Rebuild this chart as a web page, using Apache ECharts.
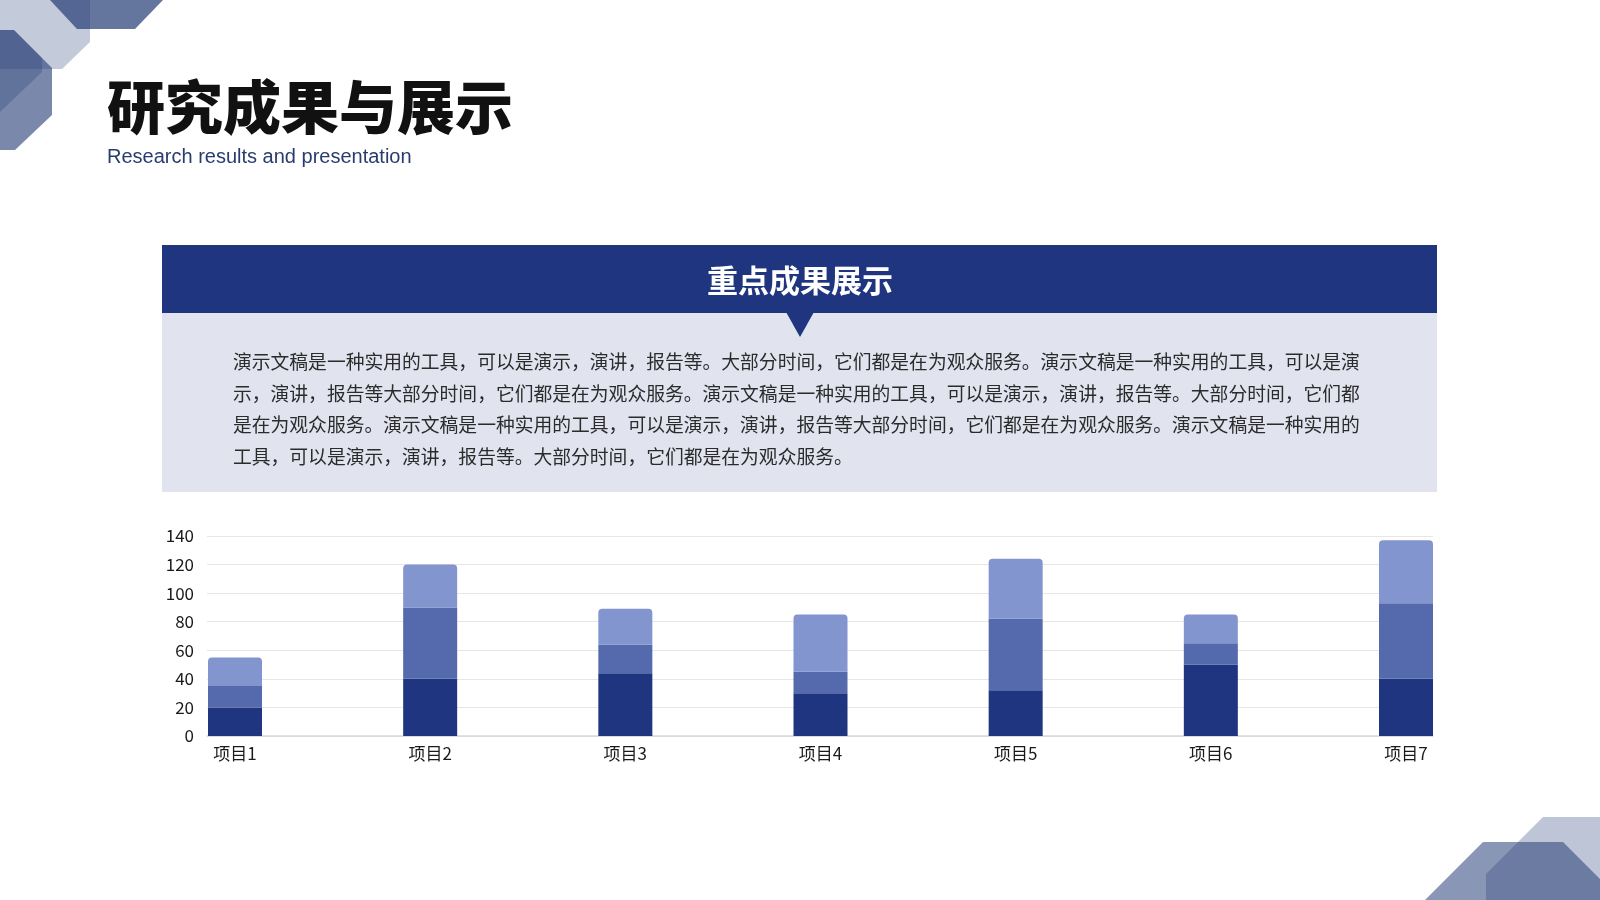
<!DOCTYPE html>
<html>
<head>
<meta charset="utf-8">
<script src="https://cdn.jsdelivr.net/npm/echarts@6/dist/echarts.min.js"></script>
<style>
html,body{margin:0;padding:0;background:#fff;}
#main{width:1600px;height:900px;}
</style>
</head>
<body>
<div id="main"></div>
<script>
// ---- data ----
const categories = ['项目1', '项目2', '项目3', '项目4', '项目5', '项目6', '项目7'];
const seriesNames = ['系列1', '系列2', '系列3'];
const series1 = [20, 40, 44, 30, 32, 50, 40];
const series2 = [15, 50, 20, 15, 50, 15, 53];
const series3 = [20, 30, 25, 40, 42, 20, 44];
const yMin = 0, yMax = 140, yInterval = 20;

const titleText = '研究成果与展示';
const subtitleText = 'Research results and presentation';
const bannerText = '重点成果展示';
const paragraphLines = [
  '演示文稿是一种实用的工具，可以是演示，演讲，报告等。大部分时间，它们都是在为观众服务。演示文稿是一种实用的工具，可以是演',
  '示，演讲，报告等大部分时间，它们都是在为观众服务。演示文稿是一种实用的工具，可以是演示，演讲，报告等。大部分时间，它们都',
  '是在为观众服务。演示文稿是一种实用的工具，可以是演示，演讲，报告等大部分时间，它们都是在为观众服务。演示文稿是一种实用的',
  '工具，可以是演示，演讲，报告等。大部分时间，它们都是在为观众服务。'
];

const CJK = '"Noto Sans CJK SC", "Noto Sans", sans-serif';
const navy = '#1f3580';
const colors = ['#1f3580', '#546aad', '#8295cf'];

const chart = echarts.init(document.getElementById('main'), null, {renderer: 'canvas'});

const graphics = [
  // top-left decorations
  {type: 'polygon', shape: {points: [[0,0],[90,0],[90,42],[62,69],[0,69]]}, style: {fill: 'rgba(40,64,120,0.28)'}},
  {type: 'polygon', shape: {points: [[50,0],[163,0],[135,29],[77,29]]}, style: {fill: 'rgba(40,64,120,0.72)'}},
  {type: 'polygon', shape: {points: [[0,30],[14,30],[52,68],[52,115],[15,150],[0,150]]}, style: {fill: 'rgba(40,64,120,0.62)'}},
  {type: 'polygon', shape: {points: [[0,30],[14,30],[42,58],[42,72],[0,112]]}, style: {fill: 'rgba(40,64,120,0.3)'}},
  // bottom-right decorations
  {type: 'polygon', shape: {points: [[1483,842],[1563,842],[1620,899],[1620,900],[1425,900]]}, style: {fill: 'rgba(40,64,120,0.55)'}},
  {type: 'polygon', shape: {points: [[1543,817],[1600,817],[1600,900],[1486,900],[1486,874]]}, style: {fill: 'rgba(40,64,120,0.3)'}},
  // title + subtitle
  {type: 'text', position: [107, 107], style: {text: titleText, font: '900 58px ' + CJK, fill: '#111', textVerticalAlign: 'middle'}},
  {type: 'text', position: [107, 157], style: {text: subtitleText, font: '20px "Liberation Sans", Arial, sans-serif', fill: '#283c6e', textVerticalAlign: 'middle'}},
  // banner + panel
  {type: 'rect', shape: {x: 162, y: 245, width: 1275, height: 68}, style: {fill: navy}},
  {type: 'rect', shape: {x: 162, y: 313, width: 1275, height: 179}, style: {fill: '#e1e4ef'}},
  {type: 'polygon', shape: {points: [[786,312],[814,312],[800,337]]}, style: {fill: navy}},
  {type: 'text', position: [800, 280], style: {text: bannerText, font: 'bold 31px ' + CJK, fill: '#fff', textAlign: 'center', textVerticalAlign: 'middle'}}
];

const lineY = [362, 393.5, 425, 456.5];
paragraphLines.forEach(function (t, i) {
  graphics.push({type: 'text', position: [233, lineY[i]], style: {text: t, font: '18.8px ' + CJK, fill: '#2b2b2b', textVerticalAlign: 'middle'}});
});

const option = {
  animation: false,
  backgroundColor: '#fff',
  textStyle: {fontFamily: CJK},
  graphic: graphics,
  grid: [
    {left: 207, right: 167, top: 536, height: 200, containLabel: false},
    {left: 235, right: 194, top: 536, height: 200, containLabel: false}
  ],
  xAxis: [
    {type: 'category', gridIndex: 0, data: categories,
     axisLine: {show: true, lineStyle: {color: '#d9d9d9', width: 1.5}},
     axisTick: {show: false}, axisLabel: {show: false}, splitLine: {show: false}},
    {type: 'category', gridIndex: 1, data: categories, boundaryGap: false,
     axisLine: {show: false}, axisTick: {show: false}, splitLine: {show: false},
     axisLabel: {show: true, color: '#1a1a1a', fontSize: 17, fontFamily: CJK, margin: 9}}
  ],
  yAxis: [
    {type: 'value', gridIndex: 0, min: yMin, max: yMax, interval: yInterval,
     axisLine: {show: false}, axisTick: {show: false},
     axisLabel: {color: '#1a1a1a', fontSize: 17, fontFamily: CJK, margin: 13},
     splitLine: {show: true, lineStyle: {color: '#e6e6e6', width: 1}}},
    {type: 'value', gridIndex: 1, min: yMin, max: yMax, interval: yInterval, show: false,
     splitLine: {show: false}}
  ],
  series: [
    {name: seriesNames[0], type: 'bar', stack: 'total', xAxisIndex: 1, yAxisIndex: 1, barWidth: 54,
     data: series1, itemStyle: {color: colors[0]}},
    {name: seriesNames[1], type: 'bar', stack: 'total', xAxisIndex: 1, yAxisIndex: 1, barWidth: 54,
     data: series2, itemStyle: {color: colors[1]}},
    {name: seriesNames[2], type: 'bar', stack: 'total', xAxisIndex: 1, yAxisIndex: 1, barWidth: 54,
     data: series3, itemStyle: {color: colors[2], borderRadius: [4, 4, 0, 0]}}
  ]
};
chart.setOption(option);
</script>
</body>
</html>
